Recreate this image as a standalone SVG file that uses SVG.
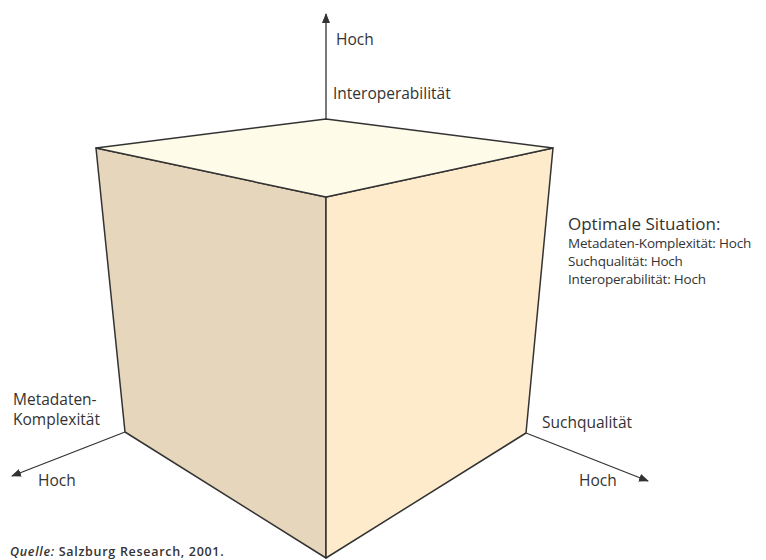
<svg xmlns="http://www.w3.org/2000/svg" width="766" height="560" viewBox="0 0 766 560">
<style>
.f{stroke:#333;stroke-width:1.5;stroke-linejoin:round}
.ax{stroke:#333;stroke-width:1.3;fill:none}
text{font-family:"Open Sans","Liberation Sans",sans-serif;fill:#333}
.l{font-size:15.5px}
.s{font-size:13.5px;letter-spacing:-0.2px}
.q{font-size:12.5px;font-weight:600;letter-spacing:0.7px}
</style>
<defs>
<marker id="ah" viewBox="0 0 10 10" refX="9" refY="5" markerWidth="10" markerHeight="10" markerUnits="userSpaceOnUse" orient="auto">
<path d="M0,1 L10,5 L0,9 Z" fill="#333"/>
</marker>
</defs>
<g id="connectors">
<line class="ax" x1="326" y1="119" x2="326" y2="14" marker-end="url(#ah)"/>
<line class="ax" x1="125" y1="432" x2="12" y2="476" marker-end="url(#ah)"/>
<line class="ax" x1="526" y1="433" x2="648" y2="481" marker-end="url(#ah)"/>
</g>
<g id="cube">
<polygon class="f" fill="#e6d6bb" points="96,148 326,197 326,558 125,432"/>
<polygon class="f" fill="#fdebcb" points="326,197 553,148 526,433 326,558"/>
<polygon class="f" fill="#fefbe9" points="96,148 326,119 553,148 326,197"/>
</g>
<g id="axis-interop">
<text class="l" x="336" y="45">Hoch</text>
<text class="l" x="333" y="99">Interoperabilität</text>
</g>
<g id="axis-meta">
<text class="l" x="13" y="405">Metadaten-</text>
<text class="l" x="13" y="425">Komplexität</text>
<text class="l" x="38" y="486">Hoch</text>
</g>
<g id="axis-such">
<text class="l" x="542" y="428">Suchqualität</text>
<text class="l" x="579" y="486">Hoch</text>
</g>
<g id="optimal">
<text x="568" y="230" style="font-size:17px">Optimale Situation:</text>
<text class="s" x="568" y="248">Metadaten-Komplexität: Hoch</text>
<text class="s" x="568" y="266">Suchqualität: Hoch</text>
<text class="s" x="568" y="284">Interoperabilität: Hoch</text>
</g>
<g id="source">
<text class="q" x="10" y="556"><tspan font-style="italic">Quelle:</tspan> Salzburg Research, 2001.</text>
</g>
</svg>
